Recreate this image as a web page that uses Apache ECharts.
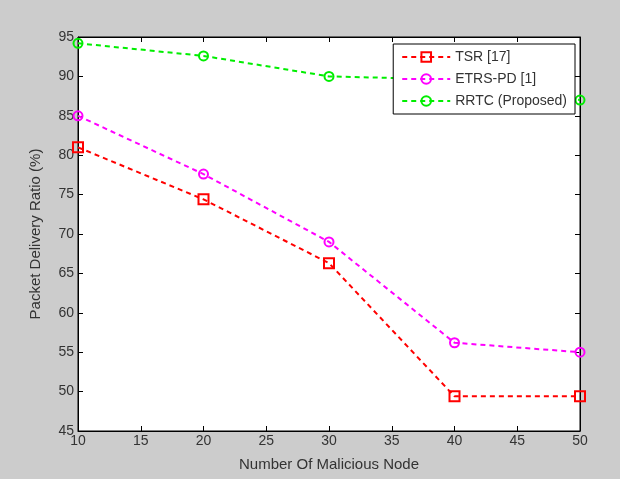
<!DOCTYPE html>
<html><head><meta charset="utf-8">
<script src="https://cdn.jsdelivr.net/npm/echarts@6/dist/echarts.min.js"></script>
<style>html,body{margin:0;padding:0;background:#cccccc}#c{width:620px;height:479px}</style>
</head><body><div id="c"></div>
<script>
const categories = [10, 20, 30, 40, 50];
const tsr = [81.0, 74.4, 66.3, 49.4, 49.4];
const etrs = [85.0, 77.6, 69.0, 56.2, 55.0];
const rrtc = [94.2, 92.6, 90.0, 89.6, 87.0];
const xTicks = [10, 15, 20, 25, 30, 35, 40, 45, 50];
const yTicks = [45, 50, 55, 60, 65, 70, 75, 80, 85, 90, 95];

const font = 'Liberation Sans, Arial, sans-serif';
function mk(name, data, color, symbol, size) {
  return {
    name: name, type: 'line',
    data: categories.map((x, i) => [x, data[i]]),
    symbol: symbol, symbolSize: size,
    lineStyle: {color: color, width: 2, type: [5, 4]},
    itemStyle: {color: 'rgba(255,255,255,0)', borderColor: color, borderWidth: 2},
    emphasis: {disabled: true},
    animation: false, z: 3
  };
}
const chart = echarts.init(document.getElementById('c'));
const axisCommon = {
  axisLine: {show: true, lineStyle: {color: '#000', width: 1}},
  axisTick: {show: true, inside: true, length: 5, lineStyle: {color: '#000'}},
  splitLine: {show: false}
};
chart.setOption({
  backgroundColor: '#cccccc',
  animation: false,
  grid: {left: 78, right: 40, top: 37, bottom: 48, show: true, backgroundColor: '#ffffff', borderColor: '#000', borderWidth: 1},
  xAxis: [
    Object.assign({type: 'value', min: 10, max: 50, interval: 5, position: 'bottom',
      name: 'Number Of Malicious Node', nameLocation: 'middle', nameGap: 26,
      nameTextStyle: {fontFamily: font, fontSize: 15, color: '#333'},
      axisLabel: {fontFamily: font, fontSize: 14, color: '#333', margin: 3,
        formatter: v => xTicks.includes(v) ? String(v) : ''}}, axisCommon),
    Object.assign({type: 'value', min: 10, max: 50, interval: 5, position: 'top',
      axisLabel: {show: false}}, axisCommon)
  ],
  yAxis: [
    Object.assign({type: 'value', min: 45, max: 95, interval: 5, position: 'left',
      name: 'Packet Delivery Ratio (%)', nameLocation: 'middle', nameGap: 35,
      nameTextStyle: {fontFamily: font, fontSize: 15, color: '#333'},
      axisLabel: {fontFamily: font, fontSize: 14, color: '#333', margin: 4,
        formatter: v => yTicks.includes(v) ? String(v) : ''}}, axisCommon),
    Object.assign({type: 'value', min: 45, max: 95, interval: 5, position: 'right',
      axisLabel: {show: false}}, axisCommon)
  ],
  legend: {
    orient: 'vertical', right: 45, top: 44,
    backgroundColor: '#ffffff', borderColor: '#000', borderWidth: 1,
    padding: [6, 8, 6, 8], itemGap: 8, itemWidth: 48, itemHeight: 12,
    textStyle: {fontFamily: font, fontSize: 14, color: '#333'},
    data: ['TSR [17]', 'ETRS-PD [1]', 'RRTC (Proposed)']
  },
  series: [
    mk('TSR [17]', tsr, '#ff0000', 'rect', 10),
    mk('ETRS-PD [1]', etrs, '#ff00ff', 'circle', 9),
    mk('RRTC (Proposed)', rrtc, '#00ee00', 'circle', 9)
  ]
});
</script></body></html>
